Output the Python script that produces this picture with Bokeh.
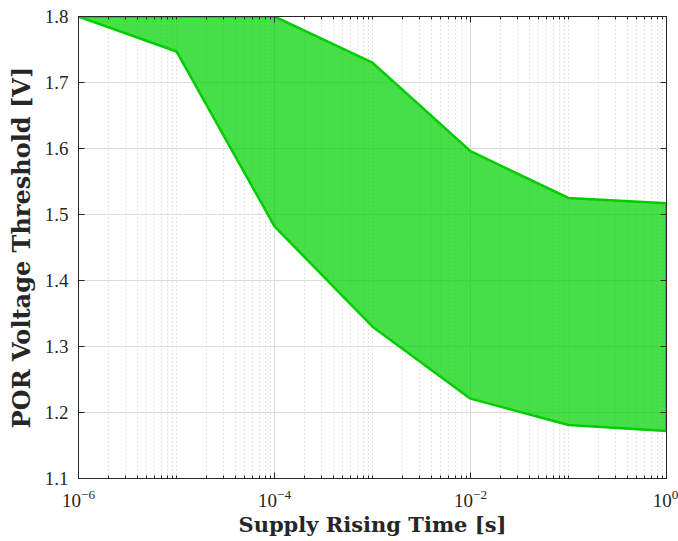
from bokeh.plotting import figure
from bokeh.models import Range1d, FixedTicker, LogAxis, LinearAxis, LogTickFormatter, CustomJSTickFormatter
from bokeh.embed import file_html
from bokeh.resources import INLINE

# Data
rise_time = [1e-6, 1e-5, 1e-4, 1e-3, 1e-2, 1e-1, 1.0]
upper_threshold = [1.8, 1.8, 1.8, 1.730, 1.596, 1.525, 1.517]
lower_threshold = [1.8, 1.747, 1.482, 1.330, 1.221, 1.181, 1.172]

x_major = [1e-6, 1e-4, 1e-2, 1.0]
x_minor = [m * 10.0 ** e for e in range(-6, 0) for m in range(2, 10)] + [1e-5, 1e-3, 1e-1]
y_ticks = [1.1, 1.2, 1.3, 1.4, 1.5, 1.6, 1.7, 1.8]

FONT = "Liberation Serif"
LFONT = "DejaVu Serif"
AX = "#262626"

p = figure(width=678, height=541, x_axis_type="log", output_backend="svg",
           toolbar_location=None, x_range=Range1d(1e-6, 1.0), y_range=Range1d(1.1, 1.8),
           min_border_left=78, min_border_right=12, min_border_top=16, min_border_bottom=63)
p.background_fill_color = "white"
p.border_fill_color = "white"
p.outline_line_color = AX
p.outline_line_width = 1

xt = FixedTicker(ticks=x_major, minor_ticks=x_minor)
yt = FixedTicker(ticks=y_ticks, minor_ticks=[])

bottom = p.xaxis[0]
left = p.yaxis[0]
bottom.ticker = xt
bottom.formatter = LogTickFormatter()
left.ticker = yt

blank = CustomJSTickFormatter(code="return ''")
top = LogAxis(ticker=xt, formatter=blank, major_label_standoff=0)
right = LinearAxis(ticker=yt, formatter=blank, major_label_standoff=0)
p.add_layout(top, "above")
p.add_layout(right, "right")

for ax in [bottom, left, top, right]:
    ax.axis_line_color = AX
    ax.major_tick_in = 6
    ax.major_tick_out = 0
    ax.minor_tick_in = 3
    ax.minor_tick_out = 0
    ax.major_tick_line_color = AX
    ax.minor_tick_line_color = AX
    ax.major_label_text_font = FONT
    ax.major_label_text_color = AX
left.minor_tick_line_color = None
right.minor_tick_line_color = None

bottom.major_label_text_font_size = "19px"
left.major_label_text_font_size = "19px"
bottom.major_label_standoff = 11
left.major_label_standoff = 10

bottom.axis_label = "Supply Rising Time [s]"
left.axis_label = "POR Voltage Threshold [V]"
for ax in [bottom, left]:
    ax.axis_label_text_font = LFONT
    ax.axis_label_text_font_style = "bold"
    ax.axis_label_text_color = AX
bottom.axis_label_text_font_size = "21px"
left.axis_label_text_font_size = "24px"
bottom.axis_label_standoff = 2
left.axis_label_standoff = 6

p.xgrid.ticker = xt
p.xgrid.grid_line_color = "#dcdcdc"
p.xgrid.minor_grid_line_color = "#c8c8c8"
p.xgrid.minor_grid_line_dash = "1 3"
p.ygrid.ticker = yt
p.ygrid.grid_line_color = "#dcdcdc"

xs = rise_time + rise_time[::-1]
ys = upper_threshold + lower_threshold[::-1]
p.patch(xs, ys, fill_color=(0, 210, 0), fill_alpha=0.72,
        line_color=(0, 204, 0), line_width=2.5)

open("out.html", "w").write(file_html(p, INLINE))
